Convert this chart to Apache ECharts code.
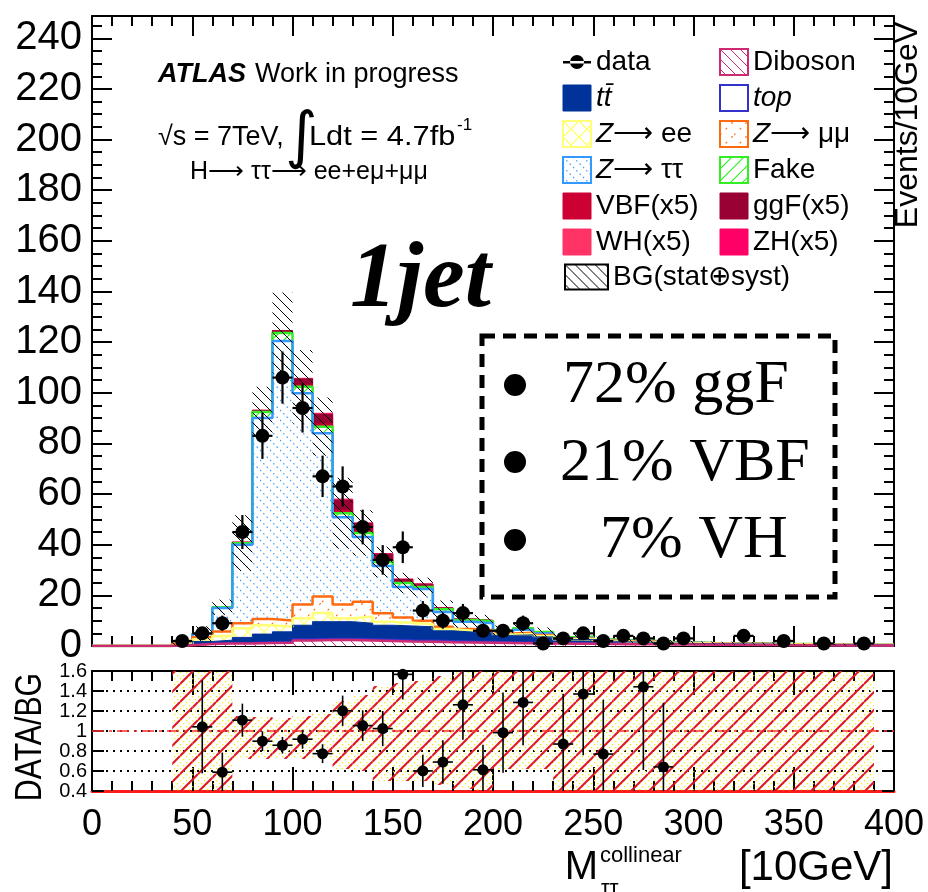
<!DOCTYPE html>
<html>
<head>
<meta charset="utf-8">
<script src="https://cdn.jsdelivr.net/npm/echarts@6/dist/echarts.min.js"></script>
<style>
html, body { margin: 0; padding: 0; background: #fff; }
#chart { width: 928px; height: 892px; }
</style>
</head>
<body>
<div id="chart"></div>
<script>
// ---- binning: 40 bins of width 10 on [0, 400] ----
const binWidth = 10;
const binLow = [0, 10, 20, 30, 40, 50, 60, 70, 80, 90, 100, 110, 120, 130, 140, 150, 160, 170, 180, 190,
                200, 210, 220, 230, 240, 250, 260, 270, 280, 290, 300, 310, 320, 330, 340, 350, 360, 370, 380, 390];

// ---- background expectations per bin (events / 10 GeV) ----
const diboson   = [0,0,0,0, 0.3,0.8,1.0,1.0,1.2,1.3, 2.2,2.4,2.4,2.2,2.0, 1.8,1.7,1.5,1.4,1.3, 1.2,1.1,1.0,0.9,0.9, 0.8,0.7,0.7,0.6,0.55, 0.5,0.45,0.42,0.38,0.34, 0.32,0.24,0.22,0.2,0.18];
const singleTop = [0,0,0,0, 0.05,0.1,0.2,0.3,0.3,0.4, 0.5,0.5,0.5,0.5,0.5, 0.5,0.5,0.5,0.4,0.4, 0.3,0.3,0.3,0.2,0.2, 0.2,0.2,0.15,0.15,0.13, 0.12,0.1,0.1,0.09,0.08, 0.08,0.06,0.06,0.05,0.05];
const ttbar     = [0,0,0,0, 0.2,0.9,1.1,2.1,3.2,3.9, 5.5,6.7,6.7,6.3,5.7, 5.6,5.4,4.0,3.7,3.5, 2.7,3.0,2.3,1.4,1.5, 0.9,0.7,0.65,0.4,0.38, 0.3,0.28,0.25,0.22,0.2, 0.18,0.14,0.13,0.12,0.1];
const zee       = [0,0,0,0, 0.15,0.8,1.6,3.6,3.5,2.0, 2.8,3.4,1.4,2.6,1.4, 1.3,1.0,0.7,0.5,0.4, 0.3,0.3,0.3,0.2,0.2, 0.15,0.1,0.1,0.07,0.06, 0.05,0.05,0.04,0.04,0.03, 0.03,0.03,0.02,0.02,0.02];
const zmumu     = [0,0,0,0, 0.15,0.9,1.8,2.0,2.5,2.5, 5.4,6.5,5.4,5.9,3.3, 2.1,1.4,0.9,0.7,0.6, 0.4,0.5,0.4,0.2,0.2, 0.15,0.15,0.15,0.08,0.08, 0.07,0.06,0.05,0.05,0.04, 0.04,0.03,0.03,0.02,0.02];
const ztautau   = [0,0,0,0, 0.1,1.2,9.3,31.0,79.3,110.4, 83.4,64.5,34.4,25.5,18.7, 12.0,12.5,5.8,2.9,2.8, 0.7,1.2,0.7,0.2,0.3, 0.15,0.15,0.15,0.1,0.08, 0.06,0.06,0.05,0.04,0.04, 0.03,0.03,0.02,0.02,0.02];
const fake      = [0,0,0,0, 0.05,0.1,0.3,0.6,2.4,3.1, 2.6,2.6,1.6,1.6,1.6, 1.6,0.8,1.1,0.7,0.8, 0.5,0.6,0.5,0.35,0.35, 0.25,0.2,0.18,0.16,0.12, 0.1,0.1,0.09,0.08,0.07, 0.07,0.05,0.05,0.05,0.04];

// ---- Higgs signal, scaled x5 ----
const vbf = [0,0,0,0, 0,0,0,0.08,0.15,0.21, 0.69,1.1,1.2,0.85,0.7, 0.3,0.25,0.13,0.08,0.06, 0.04,0.03,0.02,0,0, 0,0,0,0,0, 0,0,0,0,0, 0,0,0,0,0];
const ggf = [0,0,0,0, 0,0,0,0.29,0.5,0.72, 2.4,3.8,4.0,2.9,2.4, 1.1,0.86,0.43,0.29,0.22, 0.14,0.11,0.07,0,0, 0,0,0,0,0, 0,0,0,0,0, 0,0,0,0,0];
const wh  = [0,0,0,0, 0,0,0,0.02,0.03,0.05, 0.14,0.25,0.25,0.17,0.13, 0.07,0.06,0.03,0.02,0.01, 0.01,0.01,0.01,0,0, 0,0,0,0,0, 0,0,0,0,0, 0,0,0,0,0];
const zh  = [0,0,0,0, 0,0,0,0.01,0.02,0.02, 0.07,0.15,0.15,0.08,0.07, 0.03,0.03,0.01,0.01,0.01, 0.01,0,0,0,0, 0,0,0,0,0, 0,0,0,0,0, 0,0,0,0,0];

// ---- observed events ----
const dataCounts = [0,0,0,0, 2,5,9,45,83,106, 94,67,63,47,34, 39,14,10,13,6, 6,9,1,3,5, 2,4,3,1,3, 0,0,4,0,2, 0,1,0,1,0];

// ---- background uncertainty (stat+syst), absolute, main panel ----
const bgErr = [0,0,0,0, 0.8,3,3,11,10,16, 14.5,11.5,14,9,6, 4,3.7,3.5,3,2.5, 2,2,1.8,1.5,1.4, 1.1,1,0.9,0.8,0.7, 0.6,0.6,0.5,0.5,0.4, 0.4,0.4,0.35,0.3,0];

// ---- relative uncertainty band in the ratio panel ----
const ratioLo = [0,0,0,0, 0.3,0.3,0.3,0.72,0.72,0.72, 0.72,0.72,0.62,0.6,0.5, 0.5,0.5,0.46,0.42,0.4, 0.62,0.62,0.62,0.3,0.3, 0.3,0.3,0.3,0.3,0.3, 0.3,0.3,0.3,0.3,0.3, 0.3,0.3,0.3,0.3,0];
const ratioHi = [0,0,0,0, 1.7,1.7,1.7,1.15,1.14,1.13, 1.15,1.17,1.3,1.36,1.45, 1.48,1.5,1.55,1.6,1.6, 1.7,1.7,1.7,1.7,1.7, 1.7,1.7,1.7,1.7,1.7, 1.7,1.7,1.7,1.7,1.7, 1.7,1.7,1.7,1.7,0];

// ---- axis ticks ----
const mainYTicks = [0, 20, 40, 60, 80, 100, 120, 140, 160, 180, 200, 220, 240];
const ratioYTicks = [0.4, 0.6, 0.8, 1, 1.2, 1.4, 1.6];
const xTicks = [0, 50, 100, 150, 200, 250, 300, 350, 400];

const FONT = '"Liberation Sans", Helvetica, Arial, sans-serif';
const ARROW = '\u27f6';

// ---- fill patterns ----
function tile(size, bg, draw) {
  const c = document.createElement('canvas');
  c.width = size; c.height = size;
  const g = c.getContext('2d');
  if (bg) { g.fillStyle = bg; g.fillRect(0, 0, size, size); }
  draw(g, size);
  return { image: c, repeat: 'repeat' };
}
function hatch(size, bg, color, width, dirs, dash) {
  return tile(size, bg, (g, s) => {
    g.strokeStyle = color; g.lineWidth = width;
    if (dash) g.setLineDash(dash);
    dirs.forEach(d => {
      for (let k = -1; k <= 1; k++) {
        g.beginPath();
        if (d === '\\') { g.moveTo(0, k * s); g.lineTo(s, s + k * s); }
        else { g.moveTo(0, s + k * s); g.lineTo(s, k * s); }
        g.stroke();
      }
    });
  });
}
const patDiboson = hatch(10, '#fff', '#cc2a72', 1, ['\\']);
const patZee     = hatch(16, '#fff', '#ffff77', 1.4, ['\\', '/']);
const patZmm     = hatch(14, '#fff', '#ff6a10', 1.2, ['/'], [2, 6]);
const patZtt     = hatch(10, '#fff', '#3399ff', 1.2, ['\\'], [1.5, 3.2]);
const patFake    = hatch(12, '#fff', '#33ee22', 1.2, ['/']);
const patBG      = hatch(10, null, '#000', 1, ['\\']);
const patBGLeg   = hatch(10, '#fff', '#000', 1, ['\\']);
const patRatio = tile(18, null, (g, s) => {
  g.fillStyle = '#f4f000';
  for (let x = 0; x < s; x += 3) for (let y = 0; y < s; y += 3) {
    if ((x + y) % 6 === 0) g.fillRect(x, y, 1.3, 1.3);
  }
  g.strokeStyle = '#e0152e'; g.lineWidth = 2;
  for (let k = 0; k <= 2; k++) {
    g.beginPath(); g.moveTo(0, k * s); g.lineTo(s, k * s - s); g.stroke();
  }
});

// ---- stack layers, bottom to top ----
const TTBAR = 't' + 't\u0304';
const layers = [
  { name: 'Diboson',  vals: diboson,   line: '#cc2a72', fill: patDiboson, w: 2.5 },
  { name: 'top',      vals: singleTop, line: '#3333cc', fill: '#ffffff',  w: 2 },
  { name: TTBAR,      vals: ttbar,     line: '#003399', fill: '#003399', w: 1 },
  { name: 'Z' + ARROW + ' ee',  vals: zee, line: '#ffff77', fill: patZee,  w: 2.5 },
  { name: 'Z' + ARROW + ' \u03bc\u03bc', vals: zmumu, line: '#ff6a10', fill: patZmm, w: 2.5 },
  { name: 'Z' + ARROW + ' \u03c4\u03c4', vals: ztautau, line: '#3399ff', fill: patZtt, w: 2.5 },
  { name: 'Fake',     vals: fake,      line: '#33ee22', fill: patFake, w: 2.5 },
  { name: 'VBF(x5)',  vals: vbf,       line: '#cc0033', fill: '#cc0033', w: 1 },
  { name: 'ggF(x5)',  vals: ggf,       line: '#990033', fill: '#990033', w: 1 },
  { name: 'WH(x5)',   vals: wh,        line: '#ff3366', fill: '#ff3366', w: 1 },
  { name: 'ZH(x5)',   vals: zh,        line: '#ff0066', fill: '#ff0066', w: 1 }
];
let running = binLow.map(() => 0);
layers.forEach(L => {
  running = running.map((v, i) => v + L.vals[i]);
  L.cum = running.slice();
});
const bgTotal = layers[6].cum;   // sum of all backgrounds (through Fake)

function stepPoints(vals) {
  const pts = binLow.map((x, i) => [x, vals[i]]);
  pts.push([binLow[binLow.length - 1] + binWidth, vals[vals.length - 1]]);
  return pts;
}

const series = [];
layers.slice().reverse().forEach(L => {
  series.push({
    type: 'line', name: L.name, xAxisIndex: 0, yAxisIndex: 0,
    data: stepPoints(L.cum), step: 'end', symbol: 'none', silent: true,
    lineStyle: { color: L.line, width: L.w },
    itemStyle: { color: L.line },
    areaStyle: { color: L.fill, opacity: 1 },
    z: 2
  });
});

// background uncertainty band
series.push({
  type: 'custom', name: 'BG(stat\u2295syst)', xAxisIndex: 0, yAxisIndex: 0, silent: true, z: 3,
  data: binLow.map((x, i) => [x, x + binWidth, bgTotal[i] - bgErr[i], bgTotal[i] + bgErr[i]]).filter(d => d[3] > d[2]),
  renderItem: (params, api) => {
    const p0 = api.coord([api.value(0), Math.max(0, api.value(3))]);
    const p1 = api.coord([api.value(1), Math.max(0, api.value(2))]);
    return { type: 'rect', shape: { x: p0[0], y: p0[1], width: p1[0] - p0[0], height: p1[1] - p0[1] },
             style: { fill: patBG } };
  }
});

// data points with Poisson errors
function pointItem(api, r, lw, yMin, yMax) {
  const x = api.value(0), y = api.value(1), e = api.value(2), hw = api.value(3);
  const c = api.coord([x, y]);
  const t = api.coord([x, Math.min(yMax, y + e)]);
  const b = api.coord([x, Math.max(yMin, y - e)]);
  const l = api.coord([x - hw, y]);
  const rr = api.coord([x + hw, y]);
  return { type: 'group', children: [
    { type: 'line', shape: { x1: c[0], y1: t[1], x2: c[0], y2: b[1] }, style: { stroke: '#000', lineWidth: lw } },
    { type: 'line', shape: { x1: l[0], y1: c[1], x2: rr[0], y2: c[1] }, style: { stroke: '#000', lineWidth: lw } },
    { type: 'circle', shape: { cx: c[0], cy: c[1], r: r }, style: { fill: '#000' } }
  ] };
}
series.push({
  type: 'custom', name: 'data', xAxisIndex: 0, yAxisIndex: 0, silent: true, z: 5,
  data: dataCounts.map((n, i) => [binLow[i] + binWidth / 2, n, Math.sqrt(n), binWidth / 2]).filter(d => d[1] > 0),
  renderItem: (params, api) => pointItem(api, 7, 2.2, 0, 248.8)
});

// ratio panel: uncertainty band
series.push({
  type: 'custom', name: 'ratioBand', xAxisIndex: 2, yAxisIndex: 2, silent: true, z: 2,
  data: binLow.map((x, i) => [x, x + binWidth, ratioLo[i], ratioHi[i]]).filter(d => d[3] > d[2]),
  renderItem: (params, api) => {
    const p0 = api.coord([api.value(0), Math.min(1.6, api.value(3))]);
    const p1 = api.coord([api.value(1), Math.max(0.4, api.value(2))]);
    return { type: 'rect', shape: { x: p0[0], y: p0[1], width: p1[0] - p0[0], height: p1[1] - p0[1] },
             style: { fill: patRatio } };
  }
});
// unity line
series.push({
  type: 'line', name: 'unity', xAxisIndex: 2, yAxisIndex: 2, silent: true, symbol: 'none', z: 3,
  data: [[0, 1], [400, 1]],
  lineStyle: { color: '#ff3030', width: 1.5, type: [12, 5, 3, 5] }
});
// ratio points
series.push({
  type: 'custom', name: 'ratio', xAxisIndex: 2, yAxisIndex: 2, silent: true, z: 5,
  data: dataCounts.map((n, i) => [binLow[i] + binWidth / 2, n / bgTotal[i], Math.sqrt(n) / bgTotal[i], binWidth / 2, n])
        .filter(d => d[4] > 0 && d[1] >= 0.4 && d[1] <= 1.6),
  renderItem: (params, api) => pointItem(api, 5.5, 1.6, 0.4, 1.6)
});

// ---- axes ----
const tickStyle = { color: '#000', width: 2 };
function xAx(grid, pos, opts) {
  return Object.assign({
    gridIndex: grid, type: 'value', min: 0, max: 400, interval: 50, position: pos,
    axisLine: { show: true, onZero: false, lineStyle: { color: '#000', width: 2 } },
    axisTick: { show: true, inside: true, length: 20, lineStyle: tickStyle },
    minorTick: { show: true, splitNumber: 5, length: 10, lineStyle: tickStyle },
    axisLabel: { show: false },
    splitLine: { show: false }
  }, opts || {});
}
function yAx(grid, pos, opts) {
  return Object.assign({
    gridIndex: grid, type: 'value', position: pos,
    axisLine: { show: true, onZero: false, lineStyle: { color: '#000', width: 2 } },
    axisTick: { show: true, inside: true, length: 20, lineStyle: tickStyle },
    minorTick: { show: true, splitNumber: 4, length: 10, lineStyle: tickStyle },
    axisLabel: { show: false },
    splitLine: { show: false }
  }, opts || {});
}

const legendText = { fontSize: 28, color: '#000', fontFamily: FONT,
  rich: { i: { fontSize: 28, fontStyle: 'italic', fontFamily: FONT, color: '#000' },
          n: { fontSize: 28, fontFamily: FONT, color: '#000' } } };
function legendLabel(name) {
  if (name.indexOf('Z' + ARROW) === 0) return '{i|Z}{n|' + name.slice(1) + '}';
  if (name === 'top' || name === TTBAR) return '{i|' + name + '}';
  return name;
}

const option = {
  animation: false,
  backgroundColor: '#fff',
  textStyle: { fontFamily: FONT },
  grid: [
    { left: 92, top: 16, width: 802, height: 630, outerBoundsMode: 'none', containLabel: false },
    { left: 92, top: 671, width: 802, height: 120, outerBoundsMode: 'none', containLabel: false }
  ],
  xAxis: [
    xAx(0, 'bottom'),
    xAx(0, 'top'),
    xAx(1, 'bottom', {
      axisLine: { show: true, onZero: false, lineStyle: { color: '#ff1a1a', width: 3 } },
      axisTick: { show: true, inside: true, length: 24, lineStyle: tickStyle },
      minorTick: { show: true, splitNumber: 5, length: 10, lineStyle: tickStyle },
      axisLabel: { show: true, fontSize: 36, color: '#000', fontFamily: FONT, margin: 16,
                   showMinLabel: true, showMaxLabel: true, hideOverlap: false,
                   formatter: v => (xTicks.indexOf(v) >= 0 ? String(v) : '') }
    }),
    xAx(1, 'top', {
      axisTick: { show: true, inside: true, length: 24, lineStyle: tickStyle },
      minorTick: { show: true, splitNumber: 5, length: 10, lineStyle: tickStyle }
    })
  ],
  yAxis: [
    yAx(0, 'left', {
      min: 0, max: 248.8, interval: 20,
      axisLabel: { show: true, fontSize: 40, color: '#000', fontFamily: FONT, margin: 10,
                   showMinLabel: true, showMaxLabel: false, hideOverlap: false,
                   formatter: v => (mainYTicks.indexOf(v) >= 0 ? String(v) : '') }
    }),
    yAx(0, 'right', { min: 0, max: 248.8, interval: 20 }),
    yAx(1, 'left', {
      min: 0.4, max: 1.6, interval: 0.2,
      axisTick: { show: true, inside: true, length: 12, lineStyle: tickStyle },
      minorTick: { show: false },
      axisLabel: { show: true, color: '#000', fontFamily: FONT, margin: 5,
                   showMinLabel: true, showMaxLabel: true, hideOverlap: false,
                   rich: { t: { fontSize: 20, height: 12, lineHeight: 12, color: '#000', fontFamily: FONT } },
                   formatter: v => { const r = Math.round(v * 10) / 10; return ratioYTicks.indexOf(r) >= 0 ? '{t|' + r + '}' : ''; } },
      splitLine: { show: true, lineStyle: { color: '#000', width: 2, type: [2, 5] } }
    }),
    yAx(1, 'right', { min: 0.4, max: 1.6, interval: 0.2,
      axisTick: { show: true, inside: true, length: 12, lineStyle: tickStyle }, minorTick: { show: false } })
  ],
  legend: [
    {
      orient: 'vertical', left: 562, top: 48, itemWidth: 28, itemHeight: 26, itemGap: 8, padding: 0,
      selectedMode: false, textStyle: legendText, formatter: legendLabel,
      data: [
        { name: 'data', icon: 'path://M0,6h28v2.4h-28z M7,7a7,7 0 1,0 14,0a7,7 0 1,0 -14,0z',
          itemStyle: { color: '#000', borderColor: '#000', borderWidth: 0 } },
        { name: TTBAR, icon: 'rect', itemStyle: { color: '#003399', borderColor: '#003399', borderWidth: 1 } },
        { name: 'Z' + ARROW + ' ee', icon: 'rect', itemStyle: { color: patZee, borderColor: '#ffff77', borderWidth: 2 } },
        { name: 'Z' + ARROW + ' \u03c4\u03c4', icon: 'rect', itemStyle: { color: patZtt, borderColor: '#3399ff', borderWidth: 2 } },
        { name: 'VBF(x5)', icon: 'rect', itemStyle: { color: '#cc0033', borderColor: '#cc0033', borderWidth: 1 } },
        { name: 'WH(x5)', icon: 'rect', itemStyle: { color: '#ff3366', borderColor: '#ff3366', borderWidth: 1 } }
      ]
    },
    {
      orient: 'vertical', left: 719, top: 48, itemWidth: 28, itemHeight: 26, itemGap: 8, padding: 0,
      selectedMode: false, textStyle: legendText, formatter: legendLabel,
      data: [
        { name: 'Diboson', icon: 'rect', itemStyle: { color: patDiboson, borderColor: '#cc2a72', borderWidth: 2 } },
        { name: 'top', icon: 'rect', itemStyle: { color: '#fff', borderColor: '#3333cc', borderWidth: 2 } },
        { name: 'Z' + ARROW + ' \u03bc\u03bc', icon: 'rect', itemStyle: { color: patZmm, borderColor: '#ff6a10', borderWidth: 2 } },
        { name: 'Fake', icon: 'rect', itemStyle: { color: patFake, borderColor: '#33ee22', borderWidth: 2 } },
        { name: 'ggF(x5)', icon: 'rect', itemStyle: { color: '#990033', borderColor: '#990033', borderWidth: 1 } },
        { name: 'ZH(x5)', icon: 'rect', itemStyle: { color: '#ff0066', borderColor: '#ff0066', borderWidth: 1 } }
      ]
    },
    {
      orient: 'vertical', left: 564, top: 263, itemWidth: 43, itemHeight: 25, padding: 0, selectedMode: false,
      textStyle: { fontSize: 28, color: '#000', fontFamily: FONT },
      data: [ { name: 'BG(stat\u2295syst)', icon: 'rect', itemStyle: { color: patBGLeg, borderColor: '#000', borderWidth: 2 } } ]
    }
  ],
  graphic: [
    { type: 'text', x: 158, y: 75, silent: true,
      style: { text: 'ATLAS', font: 'italic bold 27px ' + FONT, fill: '#000', align: 'left', verticalAlign: 'middle' } },
    { type: 'text', x: 255, y: 75, silent: true,
      style: { text: 'Work in progress', font: '27px ' + FONT, fill: '#000', align: 'left', verticalAlign: 'middle' } },
    { type: 'text', x: 158, y: 138, silent: true,
      style: { text: '\u221as = 7TeV,', font: '27px ' + FONT, fill: '#000', align: 'left', verticalAlign: 'middle' } },
    { type: 'text', x: 285, y: 140, silent: true,
      style: { text: '\u222b', font: '62px "DejaVu Sans"', fill: '#000', align: 'left', verticalAlign: 'middle' } },
    { type: 'text', x: 309, y: 138, scaleX: 1.14, silent: true,
      style: { text: 'Ldt = 4.7fb', font: '27px ' + FONT, fill: '#000', align: 'left', verticalAlign: 'middle' } },
    { type: 'text', x: 457, y: 125, silent: true,
      style: { text: '-1', font: '17px ' + FONT, fill: '#000', align: 'left', verticalAlign: 'middle' } },
    { type: 'text', x: 190, y: 172, silent: true,
      style: { text: 'H' + ARROW + ' \u03c4\u03c4' + ARROW + ' ee+e\u03bc+\u03bc\u03bc', font: '25px ' + FONT, fill: '#000', align: 'left', verticalAlign: 'middle' } },
    { type: 'text', x: 350, y: 282, silent: true,
      style: { text: '1jet', font: 'italic bold 94px "Liberation Serif", serif', fill: '#000', align: 'left', verticalAlign: 'middle' } },
    { type: 'rect', silent: true, shape: { x: 482, y: 336, width: 353, height: 261 },
      style: { fill: null, stroke: '#000', lineWidth: 5, lineDash: [13, 8] } },
    { type: 'circle', silent: true, shape: { cx: 515, cy: 385, r: 11 }, style: { fill: '#000' } },
    { type: 'circle', silent: true, shape: { cx: 515, cy: 462, r: 11 }, style: { fill: '#000' } },
    { type: 'circle', silent: true, shape: { cx: 515, cy: 540, r: 11 }, style: { fill: '#000' } },
    { type: 'text', x: 563, y: 386, silent: true,
      style: { text: '72% ggF', font: '62px "Liberation Serif", serif', fill: '#000', align: 'left', verticalAlign: 'middle' } },
    { type: 'text', x: 560, y: 464, silent: true,
      style: { text: '21% VBF', font: '62px "Liberation Serif", serif', fill: '#000', align: 'left', verticalAlign: 'middle' } },
    { type: 'text', x: 600, y: 541, silent: true,
      style: { text: '7% VH', font: '62px "Liberation Serif", serif', fill: '#000', align: 'left', verticalAlign: 'middle' } },
    { type: 'text', x: 908, y: 125, rotation: Math.PI / 2, silent: true,
      style: { text: 'Events/10GeV', font: '32px ' + FONT, fill: '#000', align: 'center', verticalAlign: 'middle' } },
    { type: 'text', x: 31, y: 737, rotation: Math.PI / 2, scaleX: 0.84, silent: true,
      style: { text: 'DATA/BG', font: '36px ' + FONT, fill: '#000', align: 'center', verticalAlign: 'middle' } },
    { type: 'text', x: 598, y: 868, silent: true,
      style: { text: 'M', font: '40px ' + FONT, fill: '#000', align: 'right', verticalAlign: 'middle' } },
    { type: 'text', x: 600, y: 856, silent: true,
      style: { text: 'collinear', font: '22px ' + FONT, fill: '#000', align: 'left', verticalAlign: 'middle' } },
    { type: 'text', x: 601, y: 889, silent: true,
      style: { text: '\u03c4\u03c4', font: '22px ' + FONT, fill: '#000', align: 'left', verticalAlign: 'middle' } },
    { type: 'text', x: 893, y: 868, silent: true,
      style: { text: '[10GeV]', font: '42px ' + FONT, fill: '#000', align: 'right', verticalAlign: 'middle' } }
  ],
  series: series
};

const chart = echarts.init(document.getElementById('chart'), null, { renderer: 'canvas', width: 928, height: 892 });
chart.setOption(option);
</script>
</body>
</html>
